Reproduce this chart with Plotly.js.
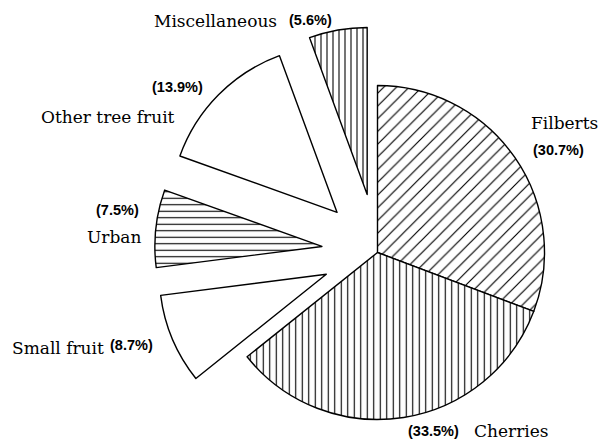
<!DOCTYPE html>
<html>
<head>
<meta charset="utf-8">
<script src="https://cdn.plot.ly/plotly-3.0.1.min.js"></script>
<style>
  html, body { margin: 0; padding: 0; background: #fff; overflow: hidden; }
  #wrap { width: 600px; height: 441px; overflow: hidden; position: relative; }
  #chart { position: absolute; left: 0; top: 0; }
</style>
</head>
<body>
<div id="wrap"><div id="chart"></div></div>
<script>
// ---- data ----
const labels = ['Filberts', 'Cherries', 'Small fruit', 'Urban', 'Other tree fruit', 'Miscellaneous'];
const shares = [30.7, 33.5, 8.7, 7.5, 13.9, 5.6];
const pulls = [0, 0, 0.333, 0.335, 0.341, 0.353];
const hatch = ['/', '|', '', '-', '', '|'];

// ---- layout geometry ----
const W = 620, H = 490;          // figure is larger than the visible 600x441 window
const R = 167, CX = 377.5, CY = 252.5;
const maxPull = Math.max.apply(null, pulls);
const half = R * (1 + maxPull);
const domX = [(CX - half) / W, (CX + half) / W];
const domY = [1 - (CY + half) / H, 1 - (CY - half) / H];

const trace = {
  type: 'pie',
  labels: labels,
  values: shares,
  pull: pulls,
  sort: false,
  direction: 'clockwise',
  rotation: 0,
  textinfo: 'none',
  hoverinfo: 'label+value',
  showlegend: false,
  domain: { x: domX, y: domY },
  marker: {
    colors: labels.map(() => '#ffffff'),
    line: { color: '#000000', width: 1.4 },
    pattern: {
      shape: hatch,
      fgcolor: '#000000',
      bgcolor: '#ffffff',
      size: [9, 6.5, 8, 6.5, 8, 6],
      solidity: [0.13, 0.17, 0.15, 0.17, 0.15, 0.18]
    }
  }
};

// label placement (pixel positions in the visible window)
const namePos = [
  [529, 123, 'left'],   // Filberts
  [472, 431, 'left'],   // Cherries
  [10, 348, 'left'],    // Small fruit
  [143, 237, 'right'],  // Urban
  [177, 117, 'right'],  // Other tree fruit
  [152, 21, 'left']     // Miscellaneous
];
const pctPos = [
  [531, 150, 'left'],
  [461, 431, 'right'],
  [108, 345, 'left'],
  [141, 210, 'right'],
  [205, 87, 'right'],
  [287, 20, 'left']
];

const serif = { family: 'DejaVu Serif, serif', size: 17, color: '#000' };
const sans = { family: 'Liberation Sans, Arial, sans-serif', size: 14.5, color: '#000', weight: 'bold' };

const annotations = [];
labels.forEach((lab, i) => {
  annotations.push({
    xref: 'paper', yref: 'paper',
    x: namePos[i][0] / W, y: 1 - namePos[i][1] / H,
    xanchor: namePos[i][2], yanchor: 'middle',
    text: lab, showarrow: false, font: serif
  });
  annotations.push({
    xref: 'paper', yref: 'paper',
    x: pctPos[i][0] / W, y: 1 - pctPos[i][1] / H,
    xanchor: pctPos[i][2], yanchor: 'middle',
    text: '(' + shares[i].toFixed(1) + '%)', showarrow: false, font: sans
  });
});

const layout = {
  width: W, height: H,
  autosize: false,
  margin: { l: 0, r: 0, t: 0, b: 0 },
  paper_bgcolor: '#ffffff',
  plot_bgcolor: '#ffffff',
  annotations: annotations
};

Plotly.newPlot('chart', [trace], layout, { displayModeBar: false, staticPlot: true });
</script>
</body>
</html>
